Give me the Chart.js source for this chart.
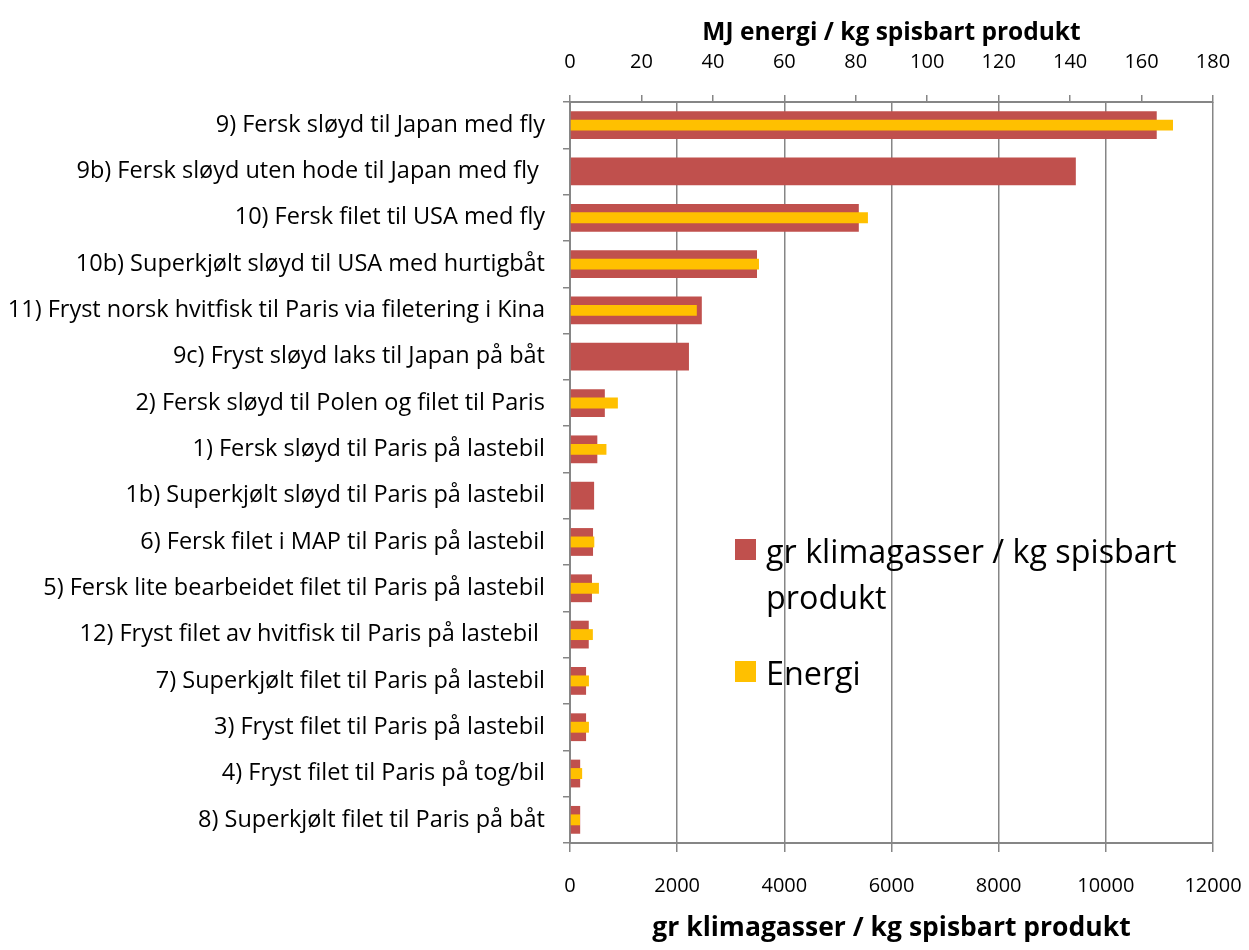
<!DOCTYPE html>
<html>
<head>
<meta charset="utf-8">
<script src="https://cdn.jsdelivr.net/npm/chart.js@4.4.1/dist/chart.umd.min.js"></script>
<style>
  body { margin: 0; background: #fff; }
  #wrap { position: relative; width: 1249px; height: 950px; }
  #legend { position: absolute; left: 735px; top: 527px; font-family: "Open Sans", sans-serif; font-size: 32.3px; color: #000; line-height: 46px; }
  #legend .row { position: relative; padding-left: 31px; width: 440px; }
  #legend .sw { position: absolute; left: 0; top: 12px; width: 21px; height: 21px; }
</style>
</head>
<body>
<div id="wrap">
  <canvas id="c" width="1249" height="950"></canvas>
  <div id="legend">
    <div class="row"><span class="sw" style="background:#C0504D"></span>gr klimagasser / kg spisbart produkt</div>
    <div class="row" style="margin-top:30px"><span class="sw" style="background:#FFC000"></span>Energi</div>
  </div>
</div>
<script>
// values
const categories = [
  '9) Fersk sløyd til Japan med fly',
  '9b) Fersk sløyd uten hode til Japan med fly ',
  '10) Fersk filet til USA med fly',
  '10b) Superkjølt sløyd til USA med hurtigbåt',
  '11) Fryst norsk hvitfisk til Paris via filetering i Kina',
  '9c) Fryst sløyd laks til Japan på båt',
  '2) Fersk sløyd til Polen og filet til Paris',
  '1) Fersk sløyd til Paris på lastebil',
  '1b) Superkjølt sløyd til Paris på lastebil',
  '6) Fersk filet i MAP til Paris på lastebil',
  '5) Fersk lite bearbeidet filet til Paris på lastebil',
  '12) Fryst filet av hvitfisk til Paris på lastebil ',
  '7) Superkjølt filet til Paris på lastebil',
  '3) Fryst filet til Paris på lastebil',
  '4) Fryst filet til Paris på tog/bil',
  '8) Superkjølt filet til Paris på båt'
];
const klimagasser = [10950, 9440, 5390, 3490, 2460, 2220, 650, 510, 450, 430, 410, 350, 300, 300, 190, 190];
const energi = [168.8, null, 83.4, 52.9, 35.5, null, 13.4, 10.2, null, 6.8, 8.1, 6.4, 5.3, 5.3, 3.4, 2.8];

const gridColor = '#868686';
const font = '"Open Sans", sans-serif';
const plain = v => String(v);
// keep the plot area edges where the reference has them
const fixX = h => s => { s.height = h; s.paddingLeft = 0; s.paddingRight = 36; };

new Chart(document.getElementById('c'), {
  type: 'bar',
  data: {
    labels: categories,
    datasets: [
      { label: 'gr klimagasser / kg spisbart produkt', data: klimagasser, xAxisID: 'x', backgroundColor: '#C0504D',
        grouped: false, categoryPercentage: 1, barPercentage: 0.6, order: 1 },
      { label: 'Energi', data: energi, xAxisID: 'x2', backgroundColor: '#FFC000',
        grouped: false, categoryPercentage: 1, barPercentage: 0.235, order: 0 }
    ]
  },
  options: {
    indexAxis: 'y',
    responsive: false,
    animation: false,
    layout: { padding: { right: 36 } },
    plugins: { legend: { display: false }, tooltip: { enabled: false } },
    scales: {
      y: {
        grid: { drawOnChartArea: false, tickLength: 7, color: gridColor, lineWidth: 1.5 },
        border: { color: gridColor, width: 2 },
        ticks: { color: '#000', font: { family: font, size: 23.5 }, padding: 18, autoSkip: false },
        afterFit: s => { s.width = 570; }
      },
      x: {
        position: 'bottom', min: 0, max: 12000,
        grid: { color: gridColor, lineWidth: 1.5, tickLength: 9 },
        border: { color: gridColor, width: 2 },
        ticks: { stepSize: 2000, color: '#000', font: { family: font, size: 20 }, padding: 22, callback: plain },
        title: { display: true, text: 'gr klimagasser / kg spisbart produkt', color: '#000',
                 font: { family: font, size: 26.5, weight: 'bold' }, padding: { bottom: 6 } },
        afterFit: fixX(107)
      },
      x2: {
        position: 'top', min: 0, max: 180,
        grid: { drawOnChartArea: false, color: gridColor, lineWidth: 1.5, tickLength: 7 },
        border: { color: gridColor, width: 2 },
        ticks: { stepSize: 20, color: '#000', font: { family: font, size: 20 }, padding: 21, callback: plain },
        title: { display: true, text: 'MJ energi / kg spisbart produkt', color: '#000',
                 font: { family: font, size: 24.5, weight: 'bold' }, padding: { top: 18 } },
        afterFit: fixX(102)
      }
    }
  }
});
</script>
</body>
</html>
